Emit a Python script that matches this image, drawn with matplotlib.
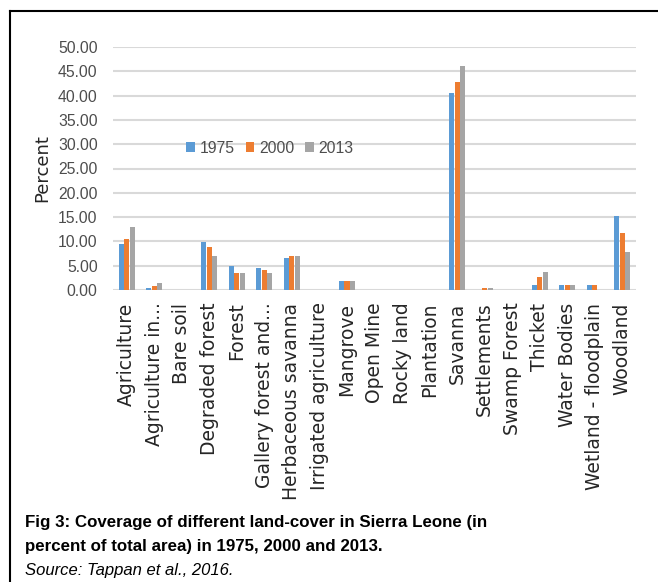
import matplotlib
matplotlib.use("Agg")
import matplotlib.pyplot as plt
from matplotlib.lines import Line2D
import numpy as np

categories = [
    "Agriculture", "Agriculture in...", "Bare soil", "Degraded forest", "Forest",
    "Gallery forest and...", "Herbaceous savanna", "Irrigated agriculture",
    "Mangrove", "Open Mine", "Rocky land", "Plantation", "Savanna",
    "Settlements", "Swamp Forest", "Thicket", "Water Bodies",
    "Wetland - floodplain", "Woodland",
]
years = ["1975", "2000", "2013"]
v1975 = [9.4, 0.5, 0.0, 9.8, 5.0, 4.6, 6.5, 0.0, 1.8, 0.0, 0.0, 0.0, 40.5,
         0.0, 0.0, 1.0, 1.0, 1.0, 15.3]
v2000 = [10.5, 0.9, 0.0, 8.9, 3.4, 4.2, 6.9, 0.0, 1.8, 0.0, 0.0, 0.0, 42.9,
         0.5, 0.0, 2.6, 1.0, 1.0, 11.8]
v2013 = [12.9, 1.4, 0.0, 6.9, 3.4, 3.4, 6.9, 0.0, 1.8, 0.0, 0.0, 0.0, 46.0,
         0.5, 0.0, 3.8, 1.0, 0.0, 7.8]
colors = ["#5B9BD5", "#ED7D31", "#A5A5A5"]

fig = plt.figure(figsize=(6.58, 5.82), dpi=100)
ax = fig.add_axes([113 / 658, 1 - 290 / 582, 523 / 658, 243 / 582])

x = np.arange(len(categories))
w = 0.2
for i, (vals, c, lab) in enumerate(zip([v1975, v2000, v2013], colors, years)):
    ax.bar(x + (i - 1) * w, vals, width=w * 0.92, color=c, label=lab, zorder=3)

ax.set_xlim(-0.5, len(categories) - 0.5)
ax.set_ylim(0, 50)
ax.set_yticks(np.arange(0, 51, 5))
ax.set_yticklabels([f"{t:.2f}" for t in np.arange(0, 51, 5)],
                   family="Liberation Sans", fontsize=11.3, color="#4D4D4D")
ax.grid(axis="y", color="#D9D9D9", lw=1.5, zorder=0)
for s in ax.spines.values():
    s.set_visible(False)
ax.tick_params(axis="y", length=0, pad=11)
ax.tick_params(axis="x", length=0, pad=9)
ax.set_xticks(x)
ax.set_xticklabels(categories, rotation=90, fontsize=13.5, color="#262626",
                   family="DejaVu Sans", va="top")
ax.set_ylabel("Percent", fontsize=13, color="#262626", labelpad=5)

leg = ax.legend(loc="center", bbox_to_anchor=(0.30, 0.584), ncol=3,
                frameon=False, handlelength=0.55, handleheight=0.55,
                handletextpad=0.3, columnspacing=0.7,
                prop={"family": "Liberation Sans", "size": 11.3})
for t in leg.get_texts():
    t.set_color("#4D4D4D")

# frame lines around the figure
fig.add_artist(Line2D([10 / 658, 10 / 658], [0, 1 - 11 / 582], color="black", lw=1.5))
fig.add_artist(Line2D([10 / 658, 1], [1 - 11 / 582, 1 - 11 / 582], color="black", lw=1.5))

fig.text(25 / 658, 1 - 522 / 582,
         "Fig 3: Coverage of different land-cover in Sierra Leone (in",
         fontsize=12.2, fontweight="bold", family="Liberation Sans", va="center")
fig.text(25 / 658, 1 - 547 / 582,
         "percent of total area) in 1975, 2000 and 2013.",
         fontsize=12.2, fontweight="bold", family="Liberation Sans", va="center")
fig.text(25 / 658, 1 - 570 / 582, "Source: Tappan et al., 2016.",
         fontsize=12, style="italic", family="Liberation Sans", va="center")

fig.savefig("out.png", dpi=100)
